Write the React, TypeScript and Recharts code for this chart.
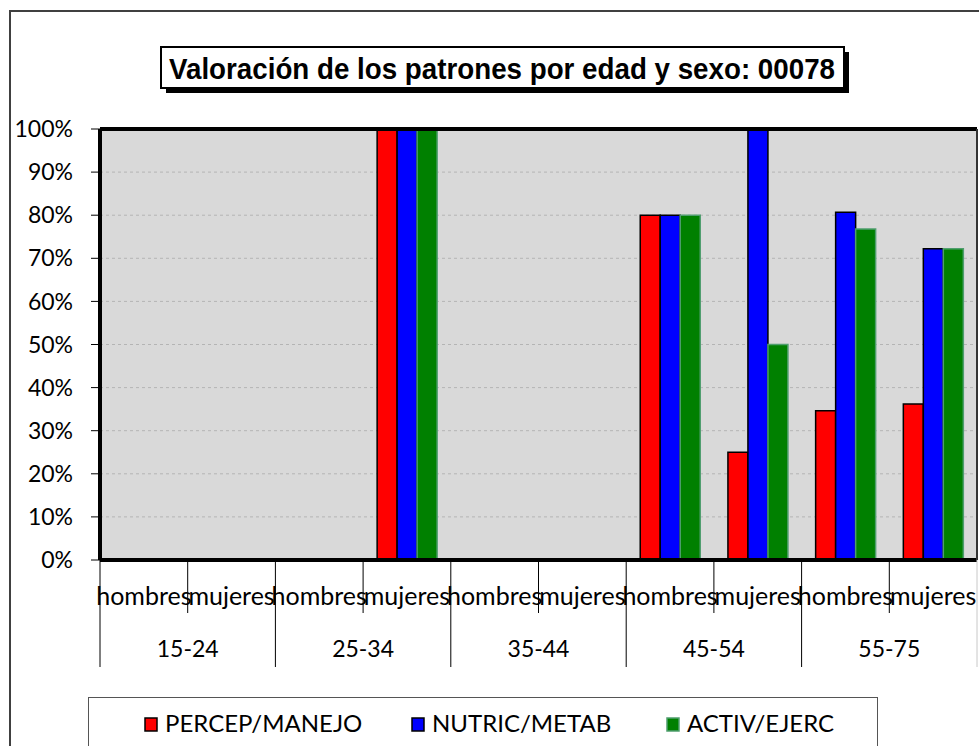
import React from 'react';
import { BarChart, Bar, XAxis, YAxis, CartesianGrid, ReferenceLine } from 'recharts';

const sexLabels = ['hombres', 'mujeres', 'hombres', 'mujeres', 'hombres', 'mujeres', 'hombres', 'mujeres', 'hombres', 'mujeres'];
const ageGroups = ['15-24', '25-34', '35-44', '45-54', '55-75'];
const percepValues = [0, 0, 0, 100, 0, 0, 80, 25, 34.6, 36.2];
const nutricValues = [0, 0, 0, 100, 0, 0, 80, 100, 80.7, 72.2];
const activValues = [0, 0, 0, 100, 0, 0, 80, 50, 76.8, 72.2];
const yTicks = [0, 10, 20, 30, 40, 50, 60, 70, 80, 90, 100];
const seriesNames = ['PERCEP/MANEJO', 'NUTRIC/METAB', 'ACTIV/EJERC'];
const seriesKeys = ['percep', 'nutric', 'activ'];
const seriesFills = ['#ff0000', '#0000ff', '#008000'];
const seriesStrokes = ['#000000', '#000000', '#4f9e6e'];
const titleText = 'Valoración de los patrones por edad y sexo: 00078';

const data = sexLabels.map((s, i) => ({
  sex: s,
  age: ageGroups[Math.floor(i / 2)],
  percep: percepValues[i],
  nutric: nutricValues[i],
  activ: activValues[i],
}));

const W = 979;
const H = 746;
const PLOT_LEFT = 100;
const PLOT_RIGHT = 977;
const PLOT_TOP = 129;
const PLOT_BOTTOM = 560;
const XAXIS_H = 110;
const N = sexLabels.length;
const FONT = 'Lato, "Open Sans", sans-serif';

const XTick = (props: any) => {
  const { x, y, payload } = props;
  const index = props.index ?? payload?.index ?? 0;
  const bw = (PLOT_RIGHT - PLOT_LEFT) / N;
  const left = x - bw / 2;
  const groupStart = index % 2 === 0;
  return (
    <g>
      <line x1={left} x2={left} y1={y} y2={y + (groupStart ? 107 : 53)} stroke="#000" strokeWidth={1} />
      {index === N - 1 && (
        <line x1={x + bw / 2} x2={x + bw / 2} y1={y} y2={y + 107} stroke="#c8c8c8" strokeWidth={1} />
      )}
      <text x={x} y={y + 45} textAnchor="middle" fontSize={25} fontFamily={FONT} fill="#000">
        {payload.value}
      </text>
      {groupStart && (
        <text x={x + bw / 2} y={y + 97} textAnchor="middle" fontSize={23} fontFamily={FONT} fill="#000">
          {ageGroups[index / 2]}
        </text>
      )}
    </g>
  );
};

const legendX = [145, 412, 667];

export default function App() {
  return (
    <div style={{ position: 'absolute', left: 0, top: 0, width: W, height: H, overflow: 'hidden', background: '#fff' }}>
      <svg width={W} height={H} style={{ position: 'absolute', left: 0, top: 0 }}>
        <path d={`M10 ${H + 10} L10 11 L${W + 10} 11`} fill="none" stroke="#404040" strokeWidth={2} />
        <rect x={166} y={52} width={683} height={41} fill="#000" />
        <rect x={161} y={47} width={683} height={41} fill="#fff" stroke="#000" strokeWidth={2} />
        <text
          x={502}
          y={79}
          textAnchor="middle"
          fontSize={29}
          fontWeight="bold"
          fontFamily='"Liberation Sans Narrow", "Arial Narrow", "Liberation Sans", Arial, sans-serif'
          textLength={666}
          lengthAdjust="spacingAndGlyphs"
          fill="#000"
        >
          {titleText}
        </text>
        <rect x={88.5} y={697.5} width={789} height={80} fill="#fff" stroke="#555" strokeWidth={1} />
        {seriesNames.map((name, i) => (
          <g key={name}>
            <rect x={legendX[i]} y={718} width={12} height={13} fill={seriesFills[i]} stroke={seriesStrokes[i]} strokeWidth={1.5} />
            <text x={legendX[i] + 20} y={732} fontSize={24} fontFamily={FONT} fill="#000">
              {name}
            </text>
          </g>
        ))}
      </svg>
      <div style={{ position: 'absolute', left: 0, top: 0 }}>
        <BarChart
          width={W}
          height={H}
          data={data}
          margin={{ top: PLOT_TOP, right: W - PLOT_RIGHT - 2, left: PLOT_LEFT - 90, bottom: H - PLOT_BOTTOM - XAXIS_H }}
          barCategoryGap="16%"
          barGap={0}
        >
          <CartesianGrid vertical={false} fill="#d9d9d9" stroke="#b4b4b4" strokeDasharray="3 3" />
          {seriesKeys.map((k, i) => (
            <Bar
              key={k}
              dataKey={k}
              name={seriesNames[i]}
              fill={seriesFills[i]}
              stroke={seriesStrokes[i]}
              strokeWidth={1.5}
              isAnimationActive={false}
            />
          ))}
          <ReferenceLine y={100} stroke="#000" strokeWidth={4} />
          <ReferenceLine y={0} stroke="#000" strokeWidth={4} />
          <XAxis
            dataKey="sex"
            interval={0}
            height={XAXIS_H}
            tickLine={false}
            axisLine={false}
            tickSize={0}
            tickMargin={0}
            tick={<XTick />}
          />
          <YAxis
            width={90}
            domain={[0, 100]}
            ticks={yTicks}
            interval={0}
            tickFormatter={(v: number) => `${v}%`}
            axisLine={{ stroke: '#000', strokeWidth: 4 }}
            tickLine={{ stroke: '#000', strokeWidth: 1 }}
            tickSize={9}
            tickMargin={18}
            tick={{ fill: '#000', fontSize: 23, fontFamily: FONT }}
          />
          <YAxis
            yAxisId="r"
            orientation="right"
            width={2}
            domain={[0, 100]}
            tick={false}
            tickLine={false}
            axisLine={{ stroke: '#333', strokeWidth: 2 }}
          />
        </BarChart>
      </div>
    </div>
  );
}
